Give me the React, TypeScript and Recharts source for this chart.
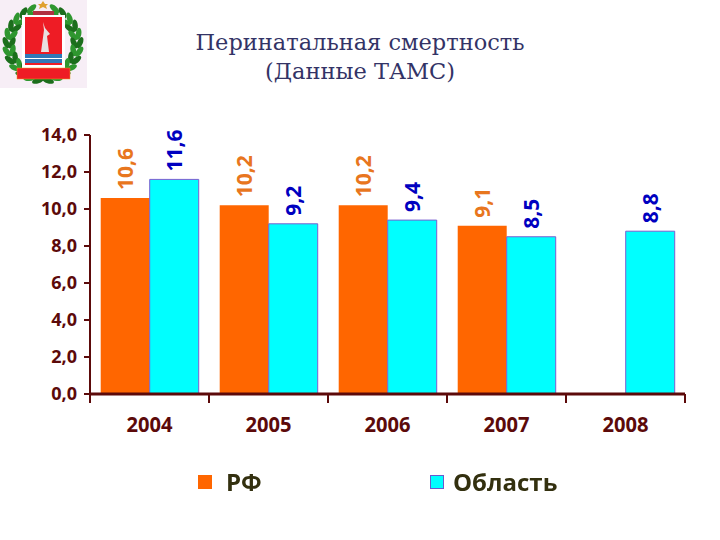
import { BarChart, Bar, XAxis, YAxis, Legend, LabelList } from "recharts";

const years = ["2004", "2005", "2006", "2007", "2008"];
const rfValues = [10.6, 10.2, 10.2, 9.1, null];
const oblastValues = [11.6, 9.2, 9.4, 8.5, 8.8];
const yTicks = [0, 2, 4, 6, 8, 10, 12, 14];

const data = years.map((year, i) => ({
  year,
  rf: rfValues[i],
  oblast: oblastValues[i],
}));

const MAROON = "#5c0a0a";
const comma = (v: number) => v.toFixed(1).replace(".", ",");
const PLOT_WIDTH = 595;
const STEP = PLOT_WIDTH / years.length;

const YearTick = ({ x, y, payload, index }: any) => (
  <g>
    <line x1={x - STEP / 2} x2={x - STEP / 2} y1={y - 8} y2={y + 1} stroke={MAROON} strokeWidth={2} />
    {index === years.length - 1 && (
      <line x1={x + STEP / 2} x2={x + STEP / 2} y1={y - 8} y2={y + 1} stroke={MAROON} strokeWidth={2} />
    )}
    <text x={x} y={y + 30} textAnchor="middle" fontSize={21} fontWeight={700} fill={MAROON} fontFamily="Open Sans" textLength={46} lengthAdjust="spacingAndGlyphs">
      {payload.value}
    </text>
  </g>
);

const verticalLabel = (color: string) => (props: any) => {
  const { x, y, width, value } = props;
  if (value == null) return null;
  const cx = x + width / 2 + 8;
  const cy = y - 8;
  return (
    <text
      transform={`rotate(-90 ${cx} ${cy})`}
      x={cx}
      y={cy}
      fill={color}
      fontSize={21}
      fontWeight={700}
      fontFamily="Open Sans"
    >
      {comma(value)}
    </text>
  );
};

const LegendRow = ({ payload }: any) => {
  const lefts = [198, 430];
  const textLefts = [226, 453];
  return (
    <div style={{ position: "absolute", left: 0, top: 0, width: 0, height: 0 }}>
      {(payload || []).map((item: any, i: number) => (
        <div key={item.value}>
          <div
            style={{
              position: "fixed",
              left: lefts[i],
              top: 475,
              width: 14,
              height: 14,
              boxSizing: "border-box",
              background: item.color,
              border: i === 1 ? "1px solid #6a5acd" : "none",
            }}
          />
          <div
            style={{
              position: "fixed",
              left: textLefts[i],
              top: 467,
              fontFamily: "Open Sans",
              fontWeight: 700,
              fontSize: 24,
              lineHeight: "30px",
              color: "#33300f",
              whiteSpace: "nowrap",
            }}
          >
            {item.value}
          </div>
        </div>
      ))}
    </div>
  );
};

// decorative wreath around the regional emblem
const leafAngles = [-72, -58, -44, -30, -16, -2, 12, 26, 40, 54, 68, 82];

const Emblem = () => (
  <svg width={87} height={88} style={{ position: "absolute", left: 0, top: 0 }}>
    <rect width={87} height={88} fill="#f7eef6" />
    {leafAngles.map((deg, i) => {
      const a = (deg * Math.PI) / 180;
      return [-1, 1].map((s) =>
        [34, 28].map((r) => {
          const cx = 43 + s * (r + 3) * Math.cos(a);
          const cy = 44 + (r + 3) * Math.sin(a);
          return (
            <ellipse
              key={`${i}${s}${r}`}
              cx={cx}
              cy={cy}
              rx={6}
              ry={2.8}
              fill={i % 2 ? "#1c6e1c" : "#2f962f"}
              transform={`rotate(${s * (deg + 90 + (r === 34 ? 25 : -25))} ${cx} ${cy})`}
            />
          );
        })
      );
    })}
    <rect x={22} y={15} width={43} height={54} fill="#ffffff" />
    <rect x={25} y={17} width={37} height={48} fill="#ee1c25" />
    <rect x={25} y={54} width={37} height={9} fill="#2f78b8" />
    <rect x={25} y={58} width={37} height={1} fill="#ffffff" />
    <path d="M41 52 L44 30 L43 22 L45 28 L50 34 L47 36 L49 52 Z" fill="#e8e0e0" />
    <rect x={17} y={68} width={53} height={11} fill="#ee1c25" stroke="#e8a020" strokeWidth={0.5} />
    <path d="M43 1 L45 4 L48 4 L46 6 L47 9 L43 7 L39 9 L40 6 L38 4 L41 4 Z" fill="#e0a030" />
    <rect x={33} y={11} width={21} height={4} fill="#b03040" />
  </svg>
);

export default function App() {
  return (
    <div style={{ position: "absolute", left: 0, top: 0, width: 720, height: 540, background: "#fff" }}>
      <Emblem />
      <div
        style={{
          position: "absolute",
          left: 0,
          top: 28,
          width: 720,
          textAlign: "center",
          fontFamily: "DejaVu Serif",
          fontSize: 22.5,
          lineHeight: "29px",
          color: "#333366",
        }}
      >
        Перинатальная смертность
        <br />
        (Данные ТАМС)
      </div>
      <BarChart
        width={720}
        height={540}
        data={data}
        margin={{ top: 135, right: 35, bottom: 106, left: 0 }}
        barCategoryGap="9%"
        barGap={0}
        style={{ position: "absolute", left: 0, top: 0 }}
      >
        <XAxis
          dataKey="year"
          height={40}
          tickLine={false}
          axisLine={{ stroke: MAROON, strokeWidth: 3 }}
          tick={YearTick}
          interval={0}
        />
        <YAxis
          width={90}
          domain={[0, 14]}
          ticks={yTicks}
          tickFormatter={comma}
          tick={{ fill: MAROON, fontSize: 18, fontWeight: 700, fontFamily: "Open Sans" }}
          tickLine={{ stroke: MAROON, strokeWidth: 2 }}
          tickSize={6}
          tickMargin={7}
          axisLine={{ stroke: MAROON, strokeWidth: 2 }}
        />
        <Legend content={<LegendRow />} height={0} verticalAlign="bottom" itemSorter={null} />
        <Bar dataKey="rf" name="РФ" fill="#ff6600" isAnimationActive={false}>
          <LabelList dataKey="rf" content={verticalLabel("#e8761e")} />
        </Bar>
        <Bar dataKey="oblast" name="Область" fill="#00ffff" stroke="#7b5fd0" strokeWidth={1} isAnimationActive={false}>
          <LabelList dataKey="oblast" content={verticalLabel("#0000c0")} />
        </Bar>
      </BarChart>
    </div>
  );
}
